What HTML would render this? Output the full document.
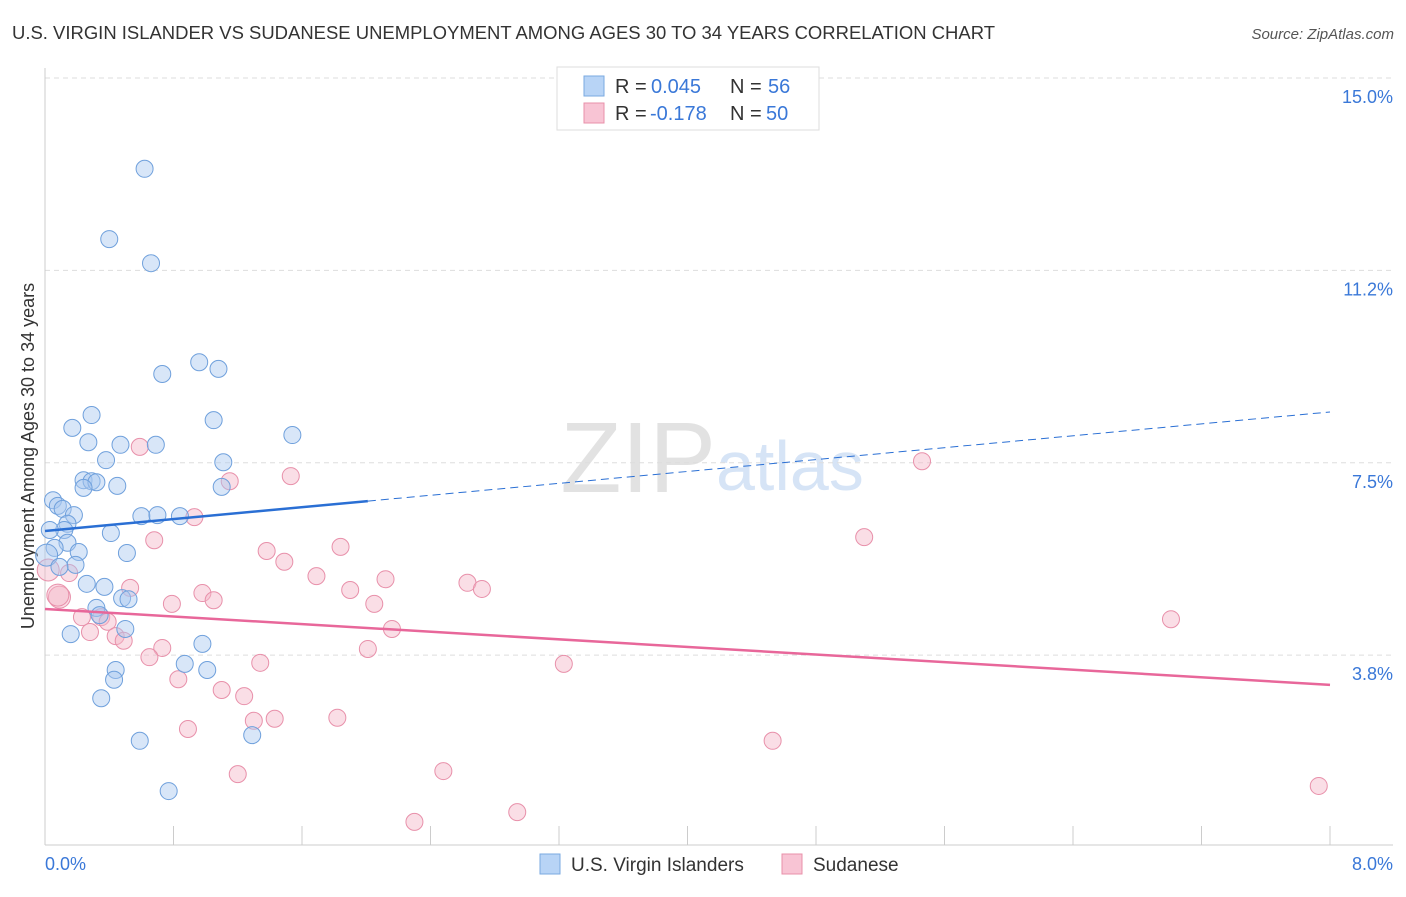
<!DOCTYPE html>
<html><head><meta charset="utf-8"><style>
body{margin:0;background:#fff;font-family:"Liberation Sans",sans-serif;}
svg text{font-family:"Liberation Sans",sans-serif;}
</style></head><body>
<svg id="c" width="1406" height="892" xmlns="http://www.w3.org/2000/svg">
<text x="12" y="39" font-size="18" fill="#333" textLength="983" lengthAdjust="spacingAndGlyphs">U.S. VIRGIN ISLANDER VS SUDANESE UNEMPLOYMENT AMONG AGES 30 TO 34 YEARS CORRELATION CHART</text>
<text x="1394" y="39" font-size="15" fill="#555" font-style="italic" text-anchor="end">Source: ZipAtlas.com</text>
<text x="716" y="492" font-size="100" fill="#e2e2e2" font-family="Liberation Serif" text-anchor="end">ZIP</text>
<text x="716" y="490" font-size="70" fill="#d6e4f6">atlas</text>
<g id="grid"></g>
<line x1="45" y1="68" x2="45" y2="845" stroke="#ccc"/>
<line x1="45" y1="845" x2="1393" y2="845" stroke="#ccc"/>
<text x="34" y="456" font-size="18" fill="#333" text-anchor="middle" transform="rotate(-90 34 456)">Unemployment Among Ages 30 to 34 years</text>
<text x="45" y="870" font-size="18" fill="#3a78d8">0.0%</text>
<text x="1393" y="870" font-size="18" fill="#3a78d8" text-anchor="end">8.0%</text>
<g id="pts"></g>
<g id="trend"></g>
<g>
<rect x="557" y="67" width="262" height="63" fill="#fff" stroke="#ddd"/>
<rect x="584" y="76" width="20" height="20" fill="#b8d4f6" stroke="#7aaae0"/>
<rect x="584" y="103" width="20" height="20" fill="#f8c4d4" stroke="#e890aa"/>
<text x="615" y="93" font-size="20" fill="#333">R =</text>
<text x="651" y="93" font-size="20" fill="#3a78d8">0.045</text>
<text x="730" y="93" font-size="20" fill="#333">N =</text>
<text x="768" y="93" font-size="20" fill="#3a78d8">56</text>
<text x="615" y="120" font-size="20" fill="#333">R =</text>
<text x="650" y="120" font-size="20" fill="#3a78d8">-0.178</text>
<text x="730" y="120" font-size="20" fill="#333">N =</text>
<text x="766" y="120" font-size="20" fill="#3a78d8">50</text>
</g>
<rect x="540" y="854" width="20" height="20" fill="#b8d4f6" stroke="#7aaae0"/>
<text x="571" y="871" font-size="19" fill="#333">U.S. Virgin Islanders</text>
<rect x="782" y="854" width="20" height="20" fill="#f8c4d4" stroke="#e890aa"/>
<text x="813" y="871" font-size="19" fill="#333">Sudanese</text>
</svg>
<script>
const yTicks=[15.0,11.25,7.5,3.75];
const yTickLabels=["15.0%","11.2%","7.5%","3.8%"];
const xTicks=[0.8,1.6,2.4,3.2,4.0,4.8,5.6,6.4,7.2,8.0];
const blueX=[0.62,0.40,0.66,0.96,0.73,1.08,0.29,0.17,1.05,1.54,0.27,0.47,0.69,0.38,1.11,0.24,0.29,0.32,0.24,0.45,1.10,0.05,0.08,0.11,0.18,0.60,0.70,0.84,0.14,0.12,0.03,0.41,0.14,0.06,0.21,0.51,0.01,0.19,0.09,0.26,0.37,0.48,0.52,0.32,0.34,0.50,0.16,0.98,0.87,0.44,1.01,0.43,0.35,0.59,1.29,0.77];
const blueY=[13.23,11.86,11.39,9.46,9.23,9.33,8.43,8.18,8.33,8.04,7.90,7.85,7.85,7.55,7.51,7.16,7.14,7.12,7.01,7.05,7.03,6.77,6.66,6.60,6.48,6.46,6.48,6.46,6.31,6.19,6.19,6.13,5.94,5.84,5.76,5.74,5.70,5.51,5.47,5.14,5.08,4.86,4.84,4.67,4.53,4.26,4.16,3.97,3.58,3.46,3.46,3.27,2.91,2.08,2.19,1.10];
const pinkX=[0.59,1.15,1.53,5.46,0.93,0.68,5.10,1.38,1.84,1.49,0.15,1.69,2.12,2.63,2.72,0.53,1.90,0.98,1.05,0.79,2.05,0.09,0.23,0.35,0.39,0.28,7.01,2.16,0.44,0.49,0.73,2.01,0.65,1.34,3.23,0.83,1.10,1.24,1.30,1.43,1.82,0.89,4.53,1.20,2.48,7.93,2.94,2.30,0.02,0.08];
const pinkY=[7.81,7.14,7.24,7.53,6.44,5.99,6.05,5.78,5.86,5.57,5.35,5.29,5.23,5.16,5.04,5.06,5.02,4.96,4.82,4.75,4.75,4.88,4.49,4.49,4.40,4.20,4.45,4.26,4.12,4.03,3.89,3.87,3.71,3.60,3.58,3.28,3.07,2.95,2.47,2.51,2.53,2.31,2.08,1.43,1.49,1.20,0.69,0.50,5.41,4.92];
const blueTrend=[6.17,0.29];
const pinkTrend=[4.65,-0.185];
const NS="http://www.w3.org/2000/svg";
const sx=v=>45+v/8*1285;
const sy=v=>78+(15-v)*51.3;
function mk(t,a,p){const e=document.createElementNS(NS,t);for(const k in a)e.setAttribute(k,a[k]);p.appendChild(e);return e;}
const grid=document.getElementById('grid');
yTicks.forEach((v,i)=>{
 const l=mk('line',{x1:45,x2:1393,y1:sy(v),y2:sy(v),stroke:'#ddd','stroke-dasharray':'5,4'},grid);
 
 
 const t=mk('text',{x:1393,y:sy(v)+25,'font-size':18,fill:'#3a78d8','text-anchor':'end'},grid);
 t.textContent=yTickLabels[i];
 
 
});
xTicks.forEach(v=>{
 const l=mk('line',{x1:sx(v),x2:sx(v),y1:826,y2:845,stroke:'#ccc'},grid);
 
 
});
const pts=document.getElementById('pts');
pinkX.forEach((x,i)=>{
 const big=x<0.1&&pinkY[i]>4.8;
 const c=mk('circle',{cx:sx(x),cy:sy(pinkY[i]),r:big?11:8.5,fill:'#f5b6c8','fill-opacity':0.45,stroke:'#e890aa','stroke-width':1},pts);
 
 
});
blueX.forEach((x,i)=>{
 const big=x<0.02;
 const c=mk('circle',{cx:sx(x),cy:sy(blueY[i]),r:big?11:8.5,fill:'#a8c8f0','fill-opacity':0.45,stroke:'#6fa0dc','stroke-width':1},pts);
 
 
});
const tr=document.getElementById('trend');
const bl=mk('line',{x1:sx(0),y1:sy(blueTrend[0]),x2:sx(2.01),y2:sy(blueTrend[0]+blueTrend[1]*2.01),stroke:'#2a6fd4','stroke-width':2.5},tr);


const bd=mk('line',{x1:sx(2.01),y1:sy(blueTrend[0]+blueTrend[1]*2.01),x2:sx(8),y2:sy(blueTrend[0]+blueTrend[1]*8),stroke:'#2a6fd4','stroke-width':1,'stroke-dasharray':'8,5'},tr);


const pl=mk('line',{x1:sx(0),y1:sy(pinkTrend[0]),x2:sx(8),y2:sy(pinkTrend[0]+pinkTrend[1]*8),stroke:'#e8679a','stroke-width':2.5},tr);


</script>
</body></html>
